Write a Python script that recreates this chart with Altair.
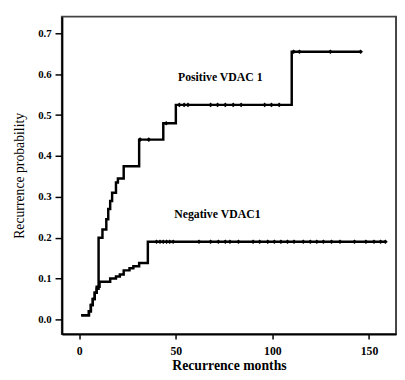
import altair as alt
import pandas as pd

# Step curves (month, cumulative recurrence probability)
pos_month = [1, 5, 6, 7, 8, 9, 10, 12, 14, 15, 16, 17, 19, 20, 23, 31, 43.5, 50, 110, 145.7]
pos_value = [0.01, 0.02, 0.035, 0.05, 0.065, 0.075, 0.2, 0.22, 0.245, 0.27, 0.29, 0.31,
             0.335, 0.345, 0.375, 0.44, 0.48, 0.525, 0.655, 0.655]

neg_month = [1, 5, 6, 7, 8, 9, 10.5, 16, 19, 21, 23, 26, 28, 31, 35.5, 158.5]
neg_value = [0.01, 0.02, 0.035, 0.05, 0.065, 0.08, 0.092, 0.1, 0.105, 0.11, 0.12, 0.125,
             0.13, 0.138, 0.19, 0.19]

# Censored observations (months)
pos_censor = [31.5, 36, 45, 51.8, 54.3, 56.3, 68, 71.6, 75.6, 79.7, 83.8, 96, 99.5, 103.5,
              111, 114, 130, 145.7]
neg_censor = [40, 41.8, 43.5, 45.2, 46.8, 48.6, 62, 68, 72, 75.6, 78, 82.4, 90, 93.4, 97.6,
              101, 104.4, 107.8, 111.2, 116, 119.6, 123, 126.4, 130.6, 135, 142.5, 148.4,
              152.6, 156, 158.5]

label_text = ["Positive VDAC 1", "Negative VDAC1"]
label_month = [73, 71.5]
label_value = [0.592, 0.257]

x_ticks = [0, 50, 100, 150]
y_ticks = [0.0, 0.1, 0.2, 0.3, 0.4, 0.5, 0.6, 0.7]


def step_value(months, values, t):
    v = values[0]
    for m, val in zip(months, values):
        if m <= t:
            v = val
    return v


lines = pd.DataFrame(
    [{"group": "pos", "month": m, "value": v} for m, v in zip(pos_month, pos_value)]
    + [{"group": "neg", "month": m, "value": v} for m, v in zip(neg_month, neg_value)]
)
cens = pd.DataFrame(
    [{"month": t, "value": step_value(pos_month, pos_value, t)} for t in pos_censor]
    + [{"month": t, "value": step_value(neg_month, neg_value, t)} for t in neg_censor]
)
labels = pd.DataFrame({"text": label_text, "month": label_month, "value": label_value})

FONT = "Liberation Serif"

xs = alt.Scale(domain=[-9, 164], nice=False, zero=False)
ys = alt.Scale(domain=[-0.036, 0.741], nice=False, zero=False)

x_axis = alt.Axis(
    values=x_ticks, tickSize=5, labelPadding=7, labelFont=FONT, labelFontWeight="bold",
    labelFontSize=12, labelColor="black", title="Recurrence months", titleFont=FONT,
    titleFontSize=14, titleFontWeight="bold", titleColor="black", titleY=36,
    titleBaseline="alphabetic", grid=False, domainWidth=2, domainColor="black",
    tickWidth=1.5, tickColor="black",
)
y_axis = alt.Axis(
    values=y_ticks, format=".1f", tickSize=7, labelPadding=4, labelFont=FONT,
    labelFontWeight="bold", labelFontSize=11, labelColor="black",
    title="Recurrence probability", titleFont=FONT, titleFontSize=14,
    titleFontWeight="normal", titleColor="black", titleX=-43, titleY=162,
    titleBaseline="middle", titleAlign="center", grid=False, domainWidth=2,
    domainColor="black", tickWidth=1.5, tickColor="black",
)

line_layer = alt.Chart(lines).mark_line(
    interpolate="step-after", color="black", strokeWidth=2.5
).encode(
    x=alt.X("month:Q", scale=xs, axis=x_axis),
    y=alt.Y("value:Q", scale=ys, axis=y_axis),
    detail="group:N",
)

cens_layer = alt.Chart(cens).mark_point(
    shape="diamond", filled=True, color="black", size=22, opacity=1
).encode(x=alt.X("month:Q", scale=xs), y=alt.Y("value:Q", scale=ys))

text_layer = alt.Chart(labels).mark_text(
    font=FONT, fontWeight="bold", fontSize=12, color="black", align="center",
    baseline="middle"
).encode(x=alt.X("month:Q", scale=xs), y=alt.Y("value:Q", scale=ys), text="text:N")

chart = alt.layer(line_layer, cens_layer, text_layer).properties(
    width=341, height=324, autosize="none",
    padding={"left": 55, "top": 5, "right": 1, "bottom": 42},
    background="white",
).configure_view(stroke="#444444", strokeWidth=2)

chart.save("out.html", embed_options={"renderer": "svg", "actions": False})
